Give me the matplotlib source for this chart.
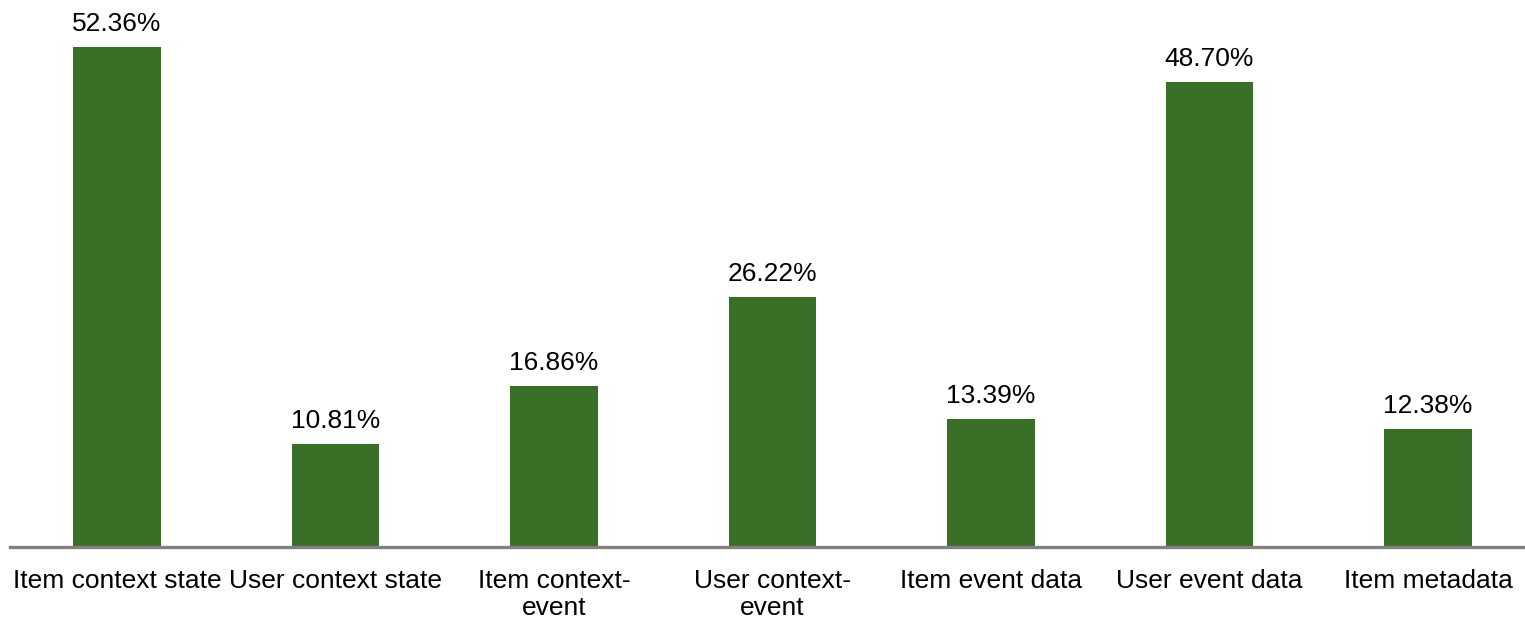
import matplotlib.pyplot as plt

categories = ["Item context state", "User context state", "Item context-\nevent",
              "User context-\nevent", "Item event data", "User event data", "Item metadata"]
values = [52.36, 10.81, 16.86, 26.22, 13.39, 48.70, 12.38]

plt.rcParams['font.family'] = ['Liberation Sans', 'DejaVu Sans']

fig = plt.figure(figsize=(15.25, 6.23), dpi=100)
ax = fig.add_axes([0, 76 / 623, 1, 547 / 623])

x = list(range(len(categories)))
bars = ax.bar(x, values, width=0.4, color="#3a6f27")

for b, v in zip(bars, values):
    ax.annotate(f"{v:.2f}%", (b.get_x() + b.get_width() / 2, v),
                xytext=(0, 11.5), textcoords="offset points",
                ha="center", va="baseline", fontsize=19)

x0 = -117 / 218.5
x1 = (1525 - 117) / 218.5
ax.set_xlim(x0, x1)
ax.set_ylim(0, 547 / 9.549)

ax.set_xticks(x)
ax.set_xticklabels(categories, fontsize=19, linespacing=1.12)
ax.tick_params(axis="x", length=0, pad=16)
ax.set_yticks([])

for s in ["top", "right", "left"]:
    ax.spines[s].set_visible(False)
ax.spines["bottom"].set_color("#808080")
ax.spines["bottom"].set_linewidth(2.4)
ax.spines["bottom"].set_bounds(x0 + 10 / 218.5, x1)

fig.savefig("out.png", dpi=100)
